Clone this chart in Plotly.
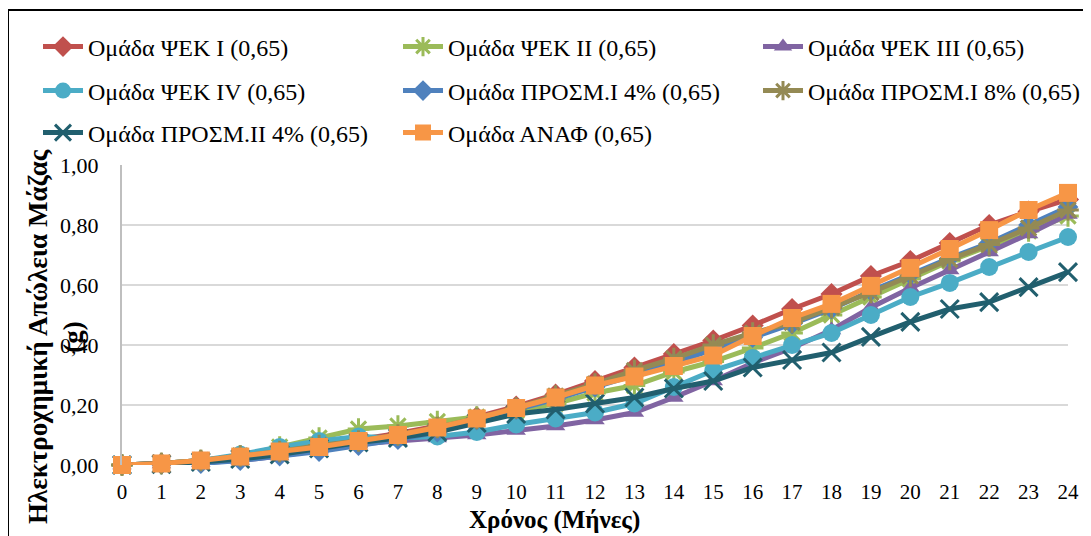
import plotly.graph_objects as go

months = list(range(25))
x_tick_labels = [str(m) for m in months]

names = [
    "Ομάδα ΨΕΚ I (0,65)",
    "Ομάδα ΨΕΚ II (0,65)",
    "Ομάδα ΨΕΚ III (0,65)",
    "Ομάδα ΨΕΚ IV (0,65)",
    "Ομάδα ΠΡΟΣΜ.Ι 4% (0,65)",
    "Ομάδα ΠΡΟΣΜ.Ι 8% (0,65)",
    "Ομάδα ΠΡΟΣΜ.ΙΙ 4% (0,65)",
    "Ομάδα ΑΝΑΦ (0,65)",
]

psek_1 = [0, 0.005, 0.015, 0.03, 0.045, 0.065, 0.085, 0.105, 0.13, 0.16, 0.195, 0.235,
          0.28, 0.325, 0.37, 0.415, 0.465, 0.52, 0.57, 0.63, 0.68, 0.74, 0.80, 0.845, 0.885]
psek_2 = [0, 0.005, 0.015, 0.03, 0.06, 0.09, 0.12, 0.13, 0.145, 0.16, 0.18, 0.205,
          0.24, 0.265, 0.31, 0.345, 0.39, 0.44, 0.50, 0.56, 0.62, 0.68, 0.73, 0.78, 0.83]
psek_3 = [0, 0.003, 0.008, 0.015, 0.03, 0.05, 0.07, 0.08, 0.09, 0.10, 0.115, 0.13,
          0.15, 0.175, 0.225, 0.28, 0.34, 0.39, 0.45, 0.525, 0.59, 0.65, 0.71, 0.77, 0.835]
psek_4 = [0, 0.005, 0.015, 0.035, 0.06, 0.08, 0.095, 0.09, 0.095, 0.11, 0.135, 0.155,
          0.175, 0.205, 0.26, 0.315, 0.357, 0.40, 0.44, 0.50, 0.56, 0.607, 0.66, 0.71, 0.76]
prosm1_4 = [0, 0.002, 0.005, 0.015, 0.03, 0.045, 0.065, 0.085, 0.11, 0.15, 0.185, 0.22,
            0.26, 0.30, 0.34, 0.385, 0.425, 0.47, 0.52, 0.58, 0.635, 0.69, 0.74, 0.80, 0.86]
prosm1_8 = [0, 0.005, 0.015, 0.03, 0.045, 0.065, 0.08, 0.10, 0.125, 0.155, 0.19, 0.23,
            0.27, 0.315, 0.355, 0.40, 0.44, 0.475, 0.525, 0.575, 0.63, 0.685, 0.735, 0.79, 0.85]
prosm2_4 = [0, 0.003, 0.01, 0.02, 0.035, 0.055, 0.075, 0.09, 0.11, 0.14, 0.17, 0.185,
            0.205, 0.225, 0.255, 0.28, 0.325, 0.35, 0.375, 0.427, 0.477, 0.52, 0.543, 0.593, 0.643]
anaf = [0, 0.005, 0.015, 0.028, 0.045, 0.06, 0.08, 0.10, 0.125, 0.155, 0.19, 0.225,
        0.265, 0.295, 0.33, 0.365, 0.43, 0.49, 0.537, 0.597, 0.657, 0.72, 0.783, 0.85, 0.907]

series = [psek_1, psek_2, psek_3, psek_4, prosm1_4, prosm1_8, prosm2_4, anaf]
colors = ["#C0504D", "#9BBB59", "#8064A2", "#4BACC6", "#4F81BD", "#948A54", "#215F6E", "#F79646"]
symbols = ["diamond", "asterisk-open", "triangle-up", "circle", "diamond",
           "asterisk-open", "x-thin-open", "square"]
sizes = [17, 18, 17, 18, 16, 18, 18, 18]

# The page body has an 8px margin, so the figure is 8px smaller and every
# position below is given in page pixels, then converted.
OFF = 8
W, H = 1091 - OFF, 536 - OFF
# plot area in page pixels
PX0, PX1, PY0, PY1 = 122, 1068, 165, 465
L, R, T, B = PX0 - OFF, W - (PX1 - OFF), PY0 - OFF, H - (PY1 - OFF)
pw, ph = W - L - R, H - T - B

def px_x(px):
    return (px - PX0) / pw

def px_y(py):
    return (PY1 - py) / ph

# legend entry placement (page px): 3 columns x 3 rows
col_px = [38, 398, 758]
row_px = [47, 91, 133]
legend_pos = [(col_px[i % 3], row_px[i // 3]) for i in range(len(names))]
legend_ids = ["legend"] + ["legend%d" % (i + 1) for i in range(1, len(names))]

fig = go.Figure()
for name, vals, col, sym, sz, lg in zip(names, series, colors, symbols, sizes, legend_ids):
    open_sym = sym.endswith("open")
    fig.add_trace(go.Scatter(
        x=months, y=vals, name=name, mode="lines+markers",
        line=dict(color=col, width=5),
        marker=dict(symbol=sym, size=sz, color=col,
                    line=dict(color=col, width=3 if open_sym else 0)),
        cliponaxis=False, legend=lg, showlegend=True,
    ))

legend_layout = {}
for lg, (lx, ly) in zip(legend_ids, legend_pos):
    legend_layout[lg] = dict(
        orientation="h", xanchor="left", yanchor="middle",
        x=px_x(lx), y=px_y(ly),
        font=dict(family="Liberation Serif", size=24, color="#000000"),
        bgcolor="rgba(0,0,0,0)", itemwidth=40,
    )

fig.update_layout(
    width=W, height=H,
    margin=dict(l=L, r=R, t=T, b=B, autoexpand=False),
    paper_bgcolor="white", plot_bgcolor="white",
    showlegend=True,
    separators=",.",
    font=dict(family="Liberation Serif", size=22, color="#000000"),
    xaxis=dict(range=[0, 24], tickmode="array", tickvals=months, ticktext=x_tick_labels,
               showgrid=False, zeroline=False, showline=False, ticks="",
               ticklabelstandoff=12, automargin=False,
               tickfont=dict(family="Liberation Serif", size=21, color="#000000")),
    yaxis=dict(range=[0, 1], tickmode="linear", tick0=0, dtick=0.2, tickformat=".2f",
               showgrid=True, gridcolor="#D9D9D9", gridwidth=2,
               zeroline=False, showline=True, linecolor="#BFBFBF", linewidth=2,
               ticks="", ticklabelstandoff=17, automargin=False,
               tickfont=dict(family="Liberation Serif", size=22, color="#000000")),
    annotations=[
        dict(text="<b>Χρόνος (Μήνες)</b>", xref="paper", yref="paper",
             x=px_x(554), y=px_y(520), showarrow=False, xanchor="center", yanchor="middle",
             font=dict(family="Liberation Serif", size=25, color="#000000")),
        dict(text="<b>Ηλεκτροχημική Απώλεια Μάζας<br>(g)</b>", xref="paper", yref="paper",
             x=px_x(55), y=px_y(337), showarrow=False, textangle=-90,
             xanchor="center", yanchor="middle",
             font=dict(family="Liberation Serif", size=27, color="#000000")),
    ],
    shapes=[
        dict(type="rect", xref="paper", yref="paper",
             x0=px_x(8), x1=px_x(1089), y0=px_y(560), y1=px_y(10),
             line=dict(color="#000000", width=2), fillcolor="rgba(0,0,0,0)", layer="below"),
    ],
    **legend_layout,
)

fig.write_html("out.html")
